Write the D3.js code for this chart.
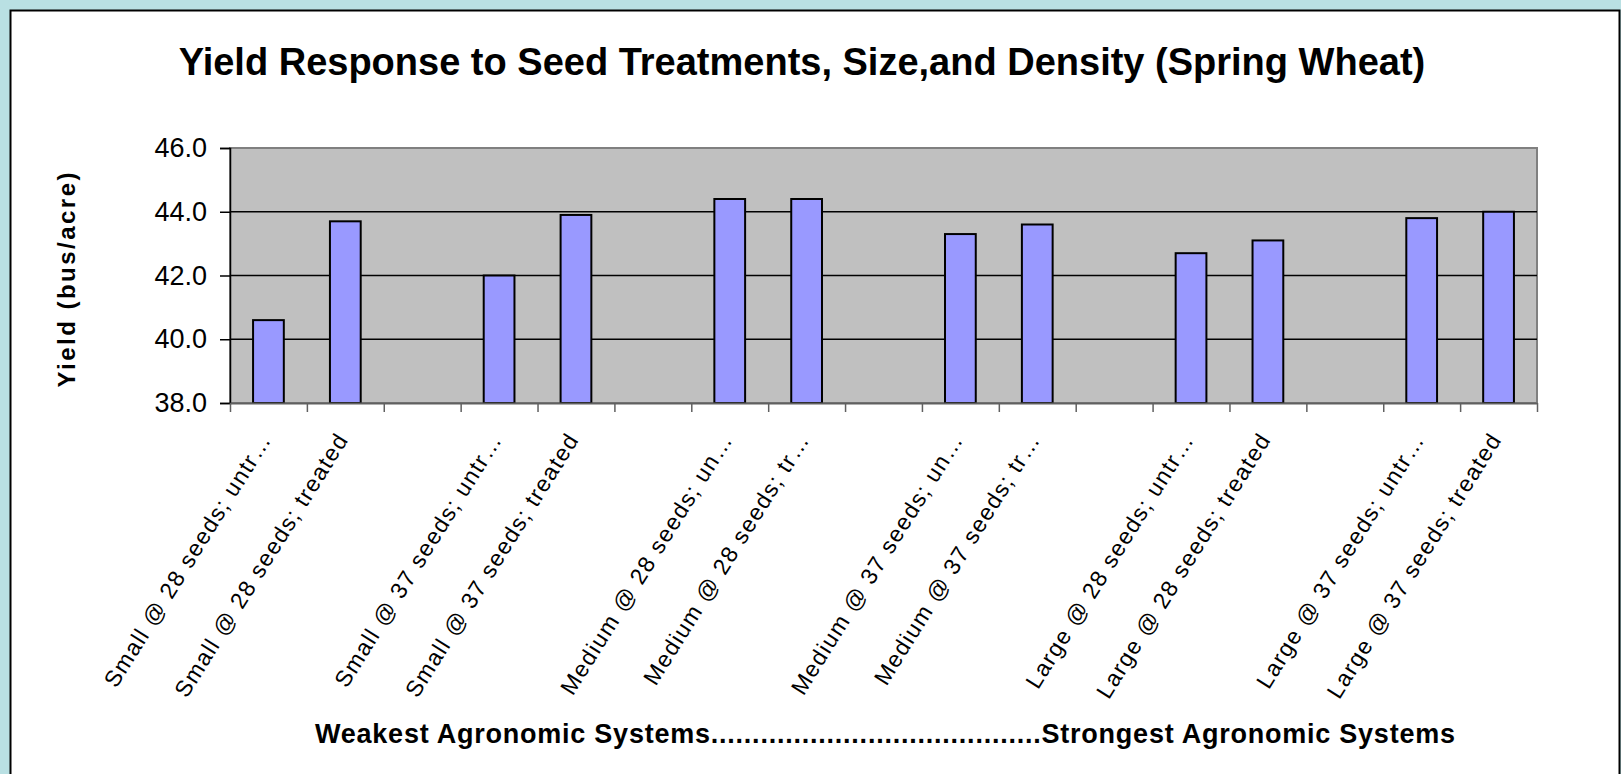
<!DOCTYPE html>
<html>
<head>
<meta charset="utf-8">
<script src="https://cdn.jsdelivr.net/npm/d3@7"></script>
<style>
  html, body { margin: 0; padding: 0; background: #b9e0e3; }
  svg { display: block; font-family: Arial, "Liberation Sans", sans-serif; }
</style>
</head>
<body>
<div id="chart"></div>
<script>
// categories (blank ones are the spacers between pairs)
const categories = [
  'Small @ 28 seeds; untr…', 'Small @ 28 seeds; treated', '',
  'Small @ 37 seeds; untr…', 'Small @ 37 seeds; treated', '',
  'Medium @ 28 seeds; un…', 'Medium @ 28 seeds; tr…', '',
  'Medium @ 37 seeds; un…', 'Medium @ 37 seeds; tr…', '',
  'Large @ 28 seeds; untr…', 'Large @ 28 seeds; treated', '',
  'Large @ 37 seeds; untr…', 'Large @ 37 seeds; treated'
];
const yields = [
  40.6, 43.7, null,
  42.0, 43.9, null,
  44.4, 44.4, null,
  43.3, 43.6, null,
  42.7, 43.1, null,
  43.8, 44.0
];
const yTicks = [38, 40, 42, 44, 46];

const title = 'Yield Response to Seed Treatments, Size,and Density (Spring Wheat)';
const yTitle = 'Yield (bus/acre)';
const xTitle = 'Weakest Agronomic Systems' + '.'.repeat(40) + 'Strongest Agronomic Systems';

const W = 1621, H = 774;
const plot = { left: 230, top: 148, right: 1537, bottom: 403 };

const svg = d3.select('#chart').append('svg')
  .attr('width', W)
  .attr('height', H);

svg.append('rect')
  .attr('width', W).attr('height', H)
  .attr('fill', '#b9e0e3');

svg.append('rect')
  .attr('x', 10.5).attr('y', 10.5)
  .attr('width', 1609).attr('height', 800)
  .attr('fill', '#fff')
  .attr('stroke', '#000')
  .attr('stroke-width', 2);

const x = d3.scaleBand()
  .domain(categories.map((d, i) => i))
  .range([plot.left, plot.right])
  .paddingInner(0.6)
  .paddingOuter(0.3);

const xEdge = d3.scaleLinear()
  .domain([0, categories.length])
  .range([plot.left, plot.right]);

const y = d3.scaleLinear()
  .domain([38, 46])
  .range([plot.bottom, plot.top]);

// plot area
svg.append('rect')
  .attr('x', plot.left).attr('y', plot.top)
  .attr('width', plot.right - plot.left)
  .attr('height', plot.bottom - plot.top)
  .attr('fill', '#c0c0c0')
  .attr('stroke', '#808080')
  .attr('stroke-width', 2);

// gridlines
svg.append('g')
  .selectAll('line')
  .data(yTicks.filter(d => d > 38 && d < 46))
  .join('line')
  .attr('x1', plot.left).attr('x2', plot.right)
  .attr('y1', d => y(d)).attr('y2', d => y(d))
  .attr('stroke', '#000')
  .attr('stroke-width', 1.5);

// bars
svg.append('g')
  .selectAll('rect')
  .data(yields.map((v, i) => ({ i, v })).filter(d => d.v != null))
  .join('rect')
  .attr('x', d => x(d.i))
  .attr('y', d => y(d.v))
  .attr('width', x.bandwidth())
  .attr('height', d => y(38) - y(d.v))
  .attr('fill', '#9999ff')
  .attr('stroke', '#000')
  .attr('stroke-width', 2);

// y axis
const yAxis = svg.append('g')
  .attr('transform', `translate(${plot.left},0)`)
  .call(d3.axisLeft(y)
    .tickValues(yTicks)
    .tickFormat(d3.format('.1f'))
    .tickSize(10)
    .tickPadding(13));
yAxis.select('.domain').attr('stroke', '#000').attr('stroke-width', 1.5);
yAxis.selectAll('.tick line').attr('stroke', '#000').attr('stroke-width', 1.5);
yAxis.selectAll('.tick text')
  .attr('fill', '#000')
  .style('font-size', '27px')
  .style('font-family', 'Arial, "Liberation Sans", sans-serif');

// x axis (ticks between categories)
const xAxis = svg.append('g')
  .attr('transform', `translate(0,${plot.bottom})`)
  .call(d3.axisBottom(xEdge)
    .tickValues(d3.range(categories.length + 1))
    .tickFormat('')
    .tickSize(9)
    .tickSizeOuter(0));
xAxis.select('.domain').attr('stroke', '#606060').attr('stroke-width', 2);
xAxis.selectAll('.tick line').attr('stroke', '#606060').attr('stroke-width', 1.5);

// category labels
svg.append('g')
  .selectAll('text')
  .data(categories.map((c, i) => ({ c, i })).filter(d => d.c))
  .join('text')
  .attr('transform', d => `translate(${x(d.i) + x.bandwidth() / 2 - 3},${plot.bottom + 32}) rotate(-58)`)
  .attr('text-anchor', 'end')
  .attr('dy', '0.35em')
  .style('font-size', '23px')
  .style('letter-spacing', '1.4px')
  .text(d => d.c);

// titles
svg.append('text')
  .attr('x', 802).attr('y', 75)
  .attr('text-anchor', 'middle')
  .style('font-size', '38px')
  .style('font-weight', 'bold')
  .text(title);

svg.append('text')
  .attr('transform', 'translate(67,280) rotate(-90)')
  .attr('text-anchor', 'middle')
  .attr('dy', '0.35em')
  .attr('textLength', 215)
  .attr('lengthAdjust', 'spacing')
  .style('font-size', '24px')
  .style('font-weight', 'bold')
  .text(yTitle);

svg.append('text')
  .attr('x', 885).attr('y', 743)
  .attr('text-anchor', 'middle')
  .attr('textLength', 1140)
  .attr('lengthAdjust', 'spacing')
  .style('font-size', '27px')
  .style('font-weight', 'bold')
  .text(xTitle);
</script>
</body>
</html>
